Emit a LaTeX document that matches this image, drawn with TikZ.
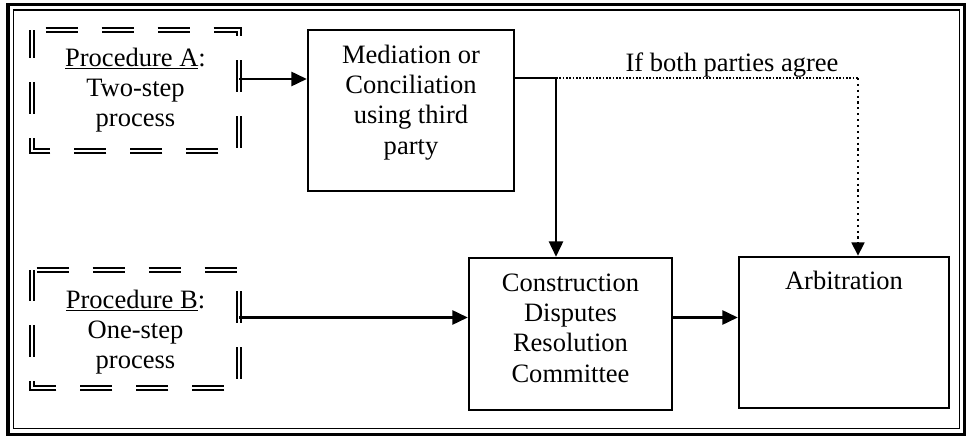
\documentclass[tikz,border=0pt]{standalone}
\usepackage{fontspec}
\setmainfont{Liberation Serif}
\usetikzlibrary{arrows.meta}
\begin{document}
\begin{tikzpicture}[x=0.75pt,y=-0.75pt,
  every node/.style={font=\fontsize{19.9pt}{22.75pt}\selectfont, align=center, inner sep=0pt},
  box/.style={draw, line width=1.8pt},
  procline/.style={double, double distance=1.7pt, line width=1.5pt, line cap=butt, line join=miter},
  link/.style={line width=1.8pt, -{Triangle[length=11.5pt,width=10.5pt]}},
  wire/.style={line width=1.8pt},
  dotline/.style={line width=1.2pt, dash pattern=on 1.2pt off 1.3pt},
  dotdrop/.style={line width=1.9pt, dash pattern=on 1.6pt off 2.8pt, -{Triangle[length=10pt,width=9.5pt]}}]

% page area
\fill[white] (0,0) rectangle (968,438);
\useasboundingbox (0,0) rectangle (968,438);

% surrounding double frame
\draw[line width=2.4pt] (8,4.5) rectangle (964.5,434.5);
\draw[line width=1.2pt] (13.5,10) rectangle (959.5,428.5);

% process boxes
\node[box, minimum width=154.5pt, minimum height=120.75pt] (med) at (411,110.5) {};
\node (medtxt) at (411,102.3) {Mediation or\\Conciliation\\using third\\party};

\node[box, minimum width=152.25pt, minimum height=114pt] (cdr) at (570.5,334) {};
\node (cdrtxt) at (570.5,328) {Construction\\Disputes\\Resolution\\Committee};

\node[box, minimum width=157.5pt, minimum height=113.25pt] (arb) at (844,332.5) {};
\node (arbtxt) at (844,280) {Arbitration};

% procedure boxes with double dashed borders
\node[minimum width=155.25pt, minimum height=90.75pt] (pa) at (135.5,90.5) {};
\node (patxt) at (135.5,90) {\underline{Procedure A}:\\Two-step\\process};
\draw[procline, dash pattern=on 24pt off 18pt, dash phase=31.5pt]
  (pa.north west) -- (pa.north east) -- (pa.south east) -- (pa.south west) -- cycle;

\node[minimum width=155.25pt, minimum height=88.5pt] (pb) at (135.5,329) {};
\node (pbtxt) at (135.5,332) {\underline{Procedure B}:\\One-step\\process};
\draw[procline, dash pattern=on 24pt off 18pt, dash phase=38.25pt]
  (pb.north west) -- (pb.north east) -- (pb.south east) -- (pb.south west) -- cycle;

% connectors
\coordinate (ya) at (0,79);
\coordinate (yb) at (0,317.5);
\coordinate (j) at (556,78);
\coordinate (k) at (858,78);

\draw[link] (pa.east |- ya) -- (med.west |- ya);
\draw[wire] (med.east |- j) -- (j);
\draw[link] (j) -- (j |- cdr.north);
\draw[dotline] (j) -- (k);
\draw[dotdrop] (k) -- (k |- arb.north);
\node (agree) at (732,65) {If both parties agree};

\draw[link] (pb.east |- yb) -- (cdr.west |- yb);
\draw[link] (cdr.east |- yb) -- (arb.west |- yb);
\end{tikzpicture}
\end{document}
